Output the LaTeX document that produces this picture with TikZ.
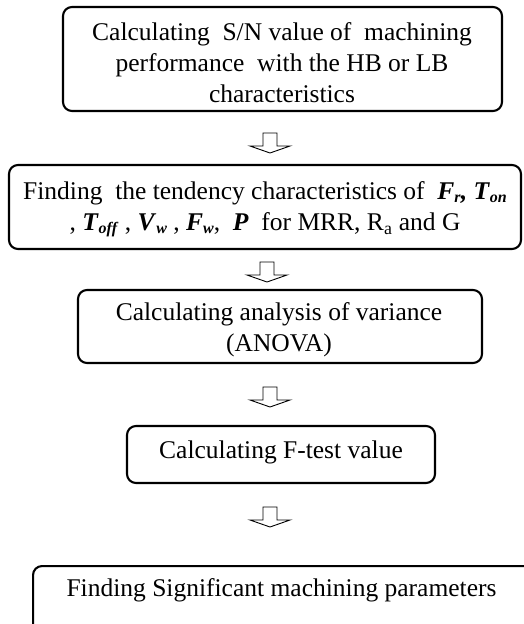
\documentclass[tikz,border=0pt]{standalone}
\usepackage{fontspec}
\setmainfont{Liberation Serif}
\newcommand\bi[1]{\textbf{\textit{#1}}}
\newcommand\sbi[1]{\raisebox{-2.5pt}{\fontsize{16}{16}\selectfont\bi{#1}}}
\begin{document}
\begin{tikzpicture}[x=1pt,y=1pt,
  box/.style={draw, line width=2.1pt, rounded corners=9pt, inner sep=0pt, align=center},
  txt/.style={font=\fontsize{25.5}{31}\selectfont, align=center, inner sep=0pt},
  openarrow/.pic={\draw[line width=0.9pt, fill=white] (-7,0) -- (7,0) -- (7,-13) -- (20,-13) -- (0,-20) -- (-20,-13) -- (-7,-13) -- cycle;}
]
\useasboundingbox (0,0) rectangle (523,-624);
\node[box, minimum width=439pt, minimum height=104pt] (b1) at (282.5,-59) {};
\node[txt] (t1) at (282,-63) {Calculating\ \ S/N value of\ \ machining\\performance\ \ with the HB or LB\\characteristics};
\node[box, minimum width=512pt, minimum height=84pt] (b2) at (265,-207) {};
\node[txt] (t2) at (265,-209) {Finding\ \ the tendency characteristics of\ \ \bi{F}\sbi{r}\bi{,} \bi{T}\sbi{on}\\, \bi{T}\sbi{off} , \bi{V}\sbi{w} , \bi{F}\sbi{w},\ \ \bi{P}\ \ for MRR, R\textsubscript{a} and G};
\node[box, minimum width=404pt, minimum height=73pt] (b3) at (280,-326.5) {};
\node[txt] (t3) at (279,-330) {Calculating analysis of variance\\(ANOVA)};
\node[box, minimum width=308pt, minimum height=57pt] (b4) at (281,-454.5) {};
\node[txt] (t4) at (281,-452) {Calculating F-test value};
\node[box, minimum width=500pt, minimum height=80pt, anchor=north west] (b5) at (32,-565) {};
\node[txt] (t5) at (281.5,-590) {Finding Significant machining parameters};
\coordinate (a1) at (270,-133);
\coordinate (a2) at (267,-262);
\coordinate (a3) at (270,-387);
\coordinate (a4) at (270,-507);
\pic at (a1) {openarrow};
\pic at (a2) {openarrow};
\pic at (a3) {openarrow};
\pic at (a4) {openarrow};
\end{tikzpicture}
\end{document}
